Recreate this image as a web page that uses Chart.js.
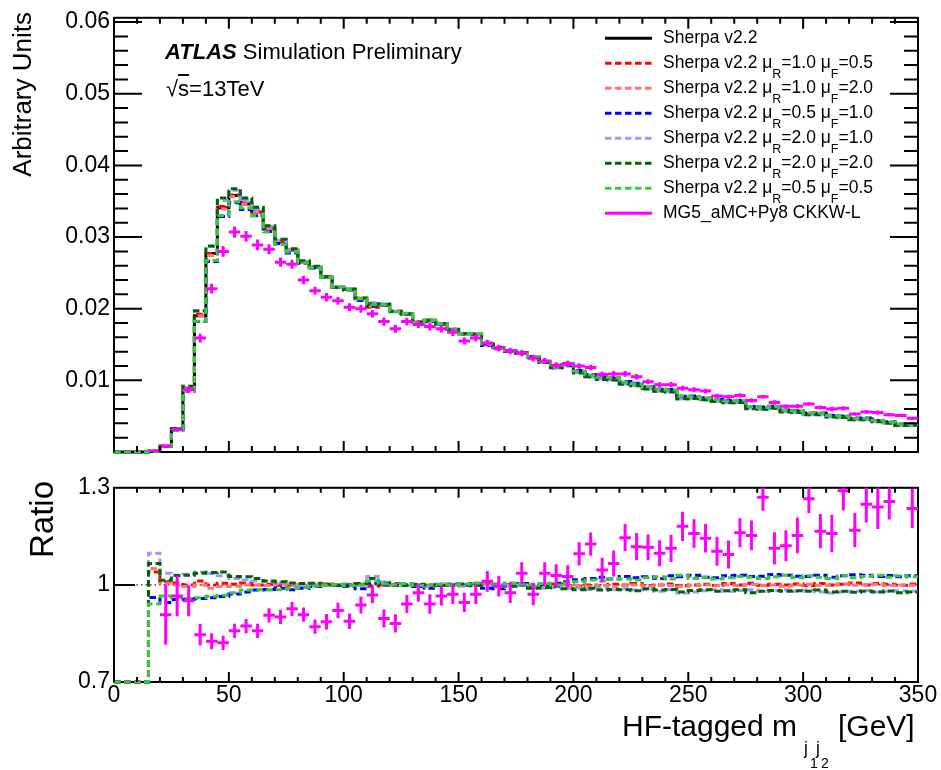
<!DOCTYPE html>
<html>
<head>
<meta charset="utf-8">
<title>HF-tagged mjj</title>
<script src="https://cdn.jsdelivr.net/npm/chart.js@4.4.1/dist/chart.umd.min.js"></script>
<style>
  body { margin: 0; background: #fff; font-family: "Liberation Sans", Arial, Helvetica, sans-serif; }
  #page { position: relative; width: 941px; height: 770px; overflow: hidden; }
  canvas { position: absolute; left: 0; }
  .t { position: absolute; white-space: nowrap; line-height: 0; color: #000; }
  .rot { transform: rotate(-90deg); transform-origin: 0 0; text-align: right; }
  .leg { font-size: 17.5px; left: 663px; }
  .leg .s { font-size: 12.5px; position: relative; top: 10px; }
</style>
</head>
<body>
<div id="page">
  <canvas id="mainChart" width="941" height="470" style="top:0"></canvas>
  <canvas id="ratioChart" width="941" height="300" style="top:470px"></canvas>

  <svg id="legLines" width="941" height="770" style="position:absolute;left:0;top:0"></svg>

  <div class="t" style="left:165px;top:52.4px;font-size:22px"><b><i>ATLAS</i></b> Simulation Preliminary</div>
  <div class="t" style="left:166px;top:89.4px;font-size:22px">√<span style="text-decoration:overline">s</span>=13TeV</div>

  <div class="t leg" style="top:37.4px">Sherpa v2.2</div>
  <div class="t leg" style="top:62.4px">Sherpa v2.2 μ<span class="s">R</span>=1.0 μ<span class="s">F</span>=0.5</div>
  <div class="t leg" style="top:87.4px">Sherpa v2.2 μ<span class="s">R</span>=1.0 μ<span class="s">F</span>=2.0</div>
  <div class="t leg" style="top:112.4px">Sherpa v2.2 μ<span class="s">R</span>=0.5 μ<span class="s">F</span>=1.0</div>
  <div class="t leg" style="top:137.4px">Sherpa v2.2 μ<span class="s">R</span>=2.0 μ<span class="s">F</span>=1.0</div>
  <div class="t leg" style="top:162.4px">Sherpa v2.2 μ<span class="s">R</span>=2.0 μ<span class="s">F</span>=2.0</div>
  <div class="t leg" style="top:187.4px">Sherpa v2.2 μ<span class="s">R</span>=0.5 μ<span class="s">F</span>=0.5</div>
  <div class="t leg" style="top:212.4px">MG5_aMC+Py8 CKKW-L</div>

  <div class="t rot" style="left:21.5px;top:312px;width:300px;font-size:26px">Arbitrary Units</div>
  <div class="t rot" style="left:41.6px;top:681px;width:200px;font-size:33px">Ratio</div>

  <div class="t" style="left:622px;top:726.1px;font-size:30px">HF-tagged m</div>
  <div class="t" style="left:804px;top:748.4px;font-size:17.5px">j</div>
  <div class="t" style="left:810px;top:763.2px;font-size:14px">1</div>
  <div class="t" style="left:816px;top:748.4px;font-size:17.5px">j</div>
  <div class="t" style="left:821px;top:763.2px;font-size:14px">2</div>
  <div class="t" style="left:838px;top:726.1px;font-size:30px">[GeV]</div>
</div>

<script>
// bins of 5 GeV from 0 to 350
const binEdges = Array.from({length: 71}, (_, i) => i * 5);
const xTicks = [0, 50, 100, 150, 200, 250, 300, 350];
const yTicksMain = [0.01, 0.02, 0.03, 0.04, 0.05, 0.06];
const yTicksRatio = [0.7, 1, 1.3];

// Sherpa v2.2 nominal, normalised
const sherpaNominal = [
  0, 0, 0, 0.0001, 0.0008, 0.0032, 0.0089, 0.0190, 0.0277, 0.0341,
  0.0358, 0.0346, 0.0335, 0.0312, 0.0294, 0.0282, 0.0266, 0.0258, 0.0244, 0.0230,
  0.0227, 0.0214, 0.0203, 0.0205, 0.0196, 0.0193, 0.0181, 0.0184, 0.0179, 0.0171,
  0.0165, 0.0164, 0.0150, 0.0146, 0.0141, 0.0138, 0.0133, 0.0126, 0.0118, 0.0122,
  0.0112, 0.0106, 0.0103, 0.0102, 0.0096, 0.0094, 0.0089, 0.0086, 0.0085, 0.0076,
  0.0076, 0.0074, 0.0072, 0.0070, 0.0070, 0.0062, 0.0061, 0.0062, 0.0057, 0.0056,
  0.0053, 0.0053, 0.0050, 0.0049, 0.0046, 0.0046, 0.0043, 0.0041, 0.0038, 0.0038
];

// MG5_aMC+Py8 CKKW-L, normalised
const mg5Main = [
  null, null, null, 0.0001, 0.0008, 0.0031, 0.0087, 0.0159, 0.0228, 0.0280,
  0.0307, 0.0301, 0.0289, 0.0283, 0.0265, 0.0262, 0.0240, 0.0225, 0.0216, 0.0211,
  0.0202, 0.0200, 0.0193, 0.0182, 0.0172, 0.0182, 0.0178, 0.0175, 0.0172, 0.0167,
  0.0155, 0.0159, 0.0152, 0.0145, 0.0141, 0.0138, 0.0131, 0.0127, 0.0121, 0.0123,
  0.0120, 0.0118, 0.0108, 0.0109, 0.0109, 0.0105, 0.0098, 0.0094, 0.0094, 0.0089,
  0.0087, 0.0085, 0.0078, 0.0077, 0.0079, 0.0072, 0.0077, 0.0069, 0.0064, 0.0064,
  0.0067, 0.0062, 0.0060, 0.0061, 0.0053, 0.0056, 0.0055, 0.0052, 0.0051, 0.0047
];

// ratio MG5 / Sherpa nominal and its error
const mg5Ratio = [
  null, null, null, null, 0.908, 0.966, 0.951, 0.846, 0.826, 0.821,
  0.858, 0.873, 0.858, 0.906, 0.901, 0.926, 0.908, 0.871, 0.886, 0.921,
  0.888, 0.938, 0.969, 0.896, 0.881, 0.941, 0.976, 0.941, 0.966, 0.971,
  0.946, 0.971, 1.011, 0.996, 0.976, 1.036, 0.971, 1.036, 1.029, 1.026,
  1.096, 1.126, 1.046, 1.066, 1.146, 1.118, 1.116, 1.098, 1.113, 1.181,
  1.159, 1.144, 1.104, 1.094, 1.161, 1.153, 1.271, 1.113, 1.121, 1.153,
  1.266, 1.166, 1.159, 1.291, 1.169, 1.249, 1.241, 1.258, 1.350, 1.236
];
const mg5RatioErr = [
  0, 0, 0, 0, 0.093, 0.063, 0.048, 0.033, 0.025, 0.022,
  0.022, 0.022, 0.022, 0.022, 0.022, 0.022, 0.022, 0.022, 0.024, 0.024,
  0.024, 0.026, 0.026, 0.028, 0.028, 0.028, 0.028, 0.030, 0.030, 0.030,
  0.030, 0.030, 0.032, 0.032, 0.032, 0.034, 0.034, 0.034, 0.035, 0.035,
  0.036, 0.036, 0.038, 0.040, 0.042, 0.042, 0.040, 0.040, 0.042, 0.045,
  0.044, 0.044, 0.045, 0.043, 0.045, 0.046, 0.042, 0.050, 0.048, 0.055,
  0.045, 0.053, 0.058, 0.060, 0.053, 0.056, 0.068, 0.056, 0.060, 0.060
];

// scale variations / nominal
const ratioR1F05 = [
  0, 0, 0, 1.040, 1.010, 1.006, 1.000, 1.012, 1.000, 1.005,
  1.002, 1.006, 1.000, 1.002, 0.998, 1.000, 0.997, 1.000, 1.003, 0.998,
  1.000, 1.002, 0.996, 1.000, 1.004, 0.998, 1.000, 0.997, 1.002, 1.000,
  0.998, 1.004, 1.008, 1.002, 0.999, 1.000, 0.996, 1.000, 1.003, 0.997,
  0.996, 1.000, 0.998, 1.002, 1.000, 1.004, 0.998, 1.000, 1.003, 0.997,
  1.000, 1.002, 0.998, 1.004, 1.000, 1.005, 0.999, 1.002, 1.000, 1.003,
  0.998, 1.004, 1.000, 1.002, 1.006, 1.000, 1.004, 1.002, 0.999, 1.003
];
const ratioR1F2 = [
  0, 0, 0, 1.051, 1.005, 1.000, 0.995, 1.000, 0.990, 0.995,
  0.996, 1.000, 1.000, 0.998, 1.002, 0.998, 1.000, 1.003, 0.998, 1.000,
  0.997, 1.000, 1.004, 0.998, 1.000, 1.002, 0.997, 1.000, 0.998, 1.003,
  1.000, 0.998, 1.003, 1.000, 0.997, 1.000, 1.002, 0.995, 0.998, 0.996,
  0.998, 0.996, 0.998, 0.995, 0.998, 1.000, 0.996, 1.000, 0.998, 0.995,
  0.998, 1.000, 0.997, 1.000, 0.998, 1.001, 0.998, 1.000, 0.996, 1.000,
  1.002, 0.998, 1.000, 1.003, 0.999, 1.000, 1.002, 0.998, 1.000, 0.999
];
const ratioR05F1 = [
  0, 0, 0, 0.961, 0.946, 0.955, 0.956, 0.958, 0.960, 0.964,
  0.972, 0.978, 0.984, 0.986, 0.990, 0.985, 0.990, 0.995, 0.998, 1.000,
  0.996, 0.988, 1.005, 1.000, 0.998, 1.000, 0.995, 0.990, 0.998, 1.002,
  1.000, 1.003, 0.990, 0.988, 1.000, 1.004, 0.992, 1.000, 1.005, 1.010,
  1.016, 1.020, 1.024, 1.018, 1.026, 1.022, 1.025, 1.020, 1.028, 1.025,
  1.030, 1.024, 1.022, 1.028, 1.030, 1.026, 1.027, 1.032, 1.030, 1.027,
  1.026, 1.030, 1.024, 1.028, 1.031, 1.030, 1.026, 1.029, 1.025, 1.028
];
const ratioR2F1 = [
  0, 0, 0, 1.098, 1.036, 1.030, 1.033, 1.040, 1.035, 1.028,
  1.020, 1.015, 1.012, 1.010, 1.006, 1.004, 1.000, 1.002, 0.998, 1.000,
  1.003, 1.000, 1.026, 1.010, 1.002, 0.998, 1.000, 0.996, 1.003, 1.000,
  0.996, 1.000, 0.998, 0.994, 0.998, 1.000, 0.994, 0.990, 0.992, 0.988,
  0.990, 0.986, 0.990, 0.985, 0.988, 0.984, 0.986, 0.980, 0.985, 0.975,
  0.978, 0.982, 0.985, 0.980, 0.983, 0.985, 0.980, 0.982, 0.985, 0.980,
  0.984, 0.978, 0.975, 0.978, 0.980, 0.983, 0.978, 0.980, 0.982, 0.980
];
const ratioR2F2 = [
  0, 0, 0, 1.066, 1.014, 1.029, 1.030, 1.036, 1.038, 1.040,
  1.026, 1.025, 1.020, 1.012, 1.010, 1.006, 1.004, 1.005, 1.002, 0.998,
  1.000, 1.004, 1.020, 1.006, 1.000, 0.998, 1.002, 1.000, 0.998, 1.000,
  1.003, 0.998, 1.006, 1.000, 0.996, 1.000, 0.990, 0.992, 0.996, 0.988,
  0.985, 0.990, 0.984, 0.986, 0.985, 0.982, 0.988, 0.984, 0.986, 0.978,
  0.983, 0.985, 0.980, 0.982, 0.985, 0.976, 0.980, 0.983, 0.980, 0.982,
  0.980, 0.984, 0.978, 0.980, 0.977, 0.980, 0.978, 0.981, 0.976, 0.978
];
const ratioR05F05 = [
  0, 0, 0, 0.941, 0.966, 0.960, 0.958, 0.960, 0.965, 0.968,
  0.976, 0.984, 0.985, 0.984, 0.985, 0.990, 0.992, 0.996, 1.000, 1.002,
  0.998, 1.000, 1.012, 1.003, 1.000, 1.004, 0.998, 1.000, 1.002, 1.000,
  1.003, 1.006, 1.004, 1.000, 1.006, 1.002, 1.000, 1.004, 1.000, 1.006,
  1.010, 1.015, 1.012, 1.020, 1.018, 1.015, 1.022, 1.025, 1.018, 1.030,
  1.020, 1.024, 1.018, 1.022, 1.026, 1.024, 1.020, 1.025, 1.030, 1.022,
  1.028, 1.024, 1.020, 1.028, 1.022, 1.026, 1.030, 1.024, 1.028, 1.025
];

const MAGENTA = '#ff00ff';
const DASH = [6.5, 3.5];

// drawn bottom -> top
const variations = [
  { ratio: ratioR1F05,  color: '#ff0000', order: 6 },
  { ratio: ratioR1F2,   color: '#ff7474', order: 5 },
  { ratio: ratioR05F1,  color: '#0000ff', order: 4 },
  { ratio: ratioR2F1,   color: '#9999ff', order: 3 },
  { ratio: ratioR2F2,   color: '#006400', order: 2 },
  { ratio: ratioR05F05, color: '#3cc83c', order: 1 }
];

Chart.defaults.font.family = '"Liberation Sans", Arial, Helvetica, sans-serif';
Chart.defaults.color = '#000';

const fmt = v => String(Math.round(v * 1000) / 1000);

// step histogram: one point per lower bin edge plus the last upper edge
function histPoints(vals) {
  const pts = vals.map((v, i) => ({ x: binEdges[i], y: v }));
  pts.push({ x: binEdges[vals.length], y: vals[vals.length - 1] });
  return pts;
}

// ROOT-style crosses: horizontal bar over the bin, vertical error bar
function crossPoints(vals, errs, lo, hi) {
  const pts = [];
  vals.forEach((v, i) => {
    if (v === null || v < lo || v > hi) return;
    const a = binEdges[i], b = binEdges[i + 1], c = (a + b) / 2;
    pts.push({ x: a, y: v }, { x: b, y: v }, { x: c, y: null },
             { x: c, y: v - errs[i] }, { x: c, y: v + errs[i] }, { x: c, y: null });
  });
  return pts;
}

// 'before' keeps the previous value up to the next edge, then steps
function stepSet(data, color, order, dash) {
  return { data, borderColor: color, borderWidth: 3, borderDash: dash || [],
           stepped: 'before', pointRadius: 0, fill: false, clip: 3, order };
}

// frame under the histograms, inward ticks on top, reference line
const frameTicks = {
  id: 'frameTicks',
  beforeDatasetsDraw(chart, args, o) {
    const { ctx, chartArea: a, scales: { y } } = chart;
    ctx.save();
    ctx.strokeStyle = '#000';
    ctx.lineWidth = 2;
    ctx.strokeRect(a.left, a.top, a.right - a.left, a.bottom - a.top);
    if (o.refLine !== undefined) {
      const py = y.getPixelForValue(o.refLine);
      ctx.strokeStyle = '#222';
      ctx.lineWidth = 1.3;
      ctx.setLineDash([1.5, 3]);
      ctx.beginPath();
      ctx.moveTo(a.left, py);
      ctx.lineTo(a.right, py);
      ctx.stroke();
    }
    ctx.restore();
  },
  afterDatasetsDraw(chart, args, o) {
    const { ctx, chartArea: a, scales: { x, y } } = chart;
    ctx.save();
    ctx.strokeStyle = '#000';
    ctx.lineWidth = 2;
    ctx.beginPath();
    for (let k = 0; k <= 35; k++) {
      const px = x.getPixelForValue(k * 10);
      const len = k % 5 === 0 ? o.xMajorLen : o.xMinorLen;
      ctx.moveTo(px, a.bottom); ctx.lineTo(px, a.bottom - len);
      ctx.moveTo(px, a.top); ctx.lineTo(px, a.top + len);
    }
    for (const v of o.yMajor) {
      const py = y.getPixelForValue(v);
      ctx.moveTo(a.left, py); ctx.lineTo(a.left + o.yMajorLen, py);
      if (o.yRight) { ctx.moveTo(a.right, py); ctx.lineTo(a.right - o.yMajorLen, py); }
    }
    if (o.yMinorStep) {
      const n = Math.round(o.yMinorMax / o.yMinorStep);
      for (let k = 1; k < n; k++) {
        if (k % 5 === 0) continue;
        const py = y.getPixelForValue(k * o.yMinorStep);
        ctx.moveTo(a.left, py); ctx.lineTo(a.left + o.yMinorLen, py);
        if (o.yRight) { ctx.moveTo(a.right, py); ctx.lineTo(a.right - o.yMinorLen, py); }
      }
    }
    ctx.stroke();
    ctx.restore();
  }
};

function makeOptions(yMin, yMax, yTicks, showX, ticksOpt) {
  return {
    responsive: false,
    animation: false,
    devicePixelRatio: 1,
    events: [],
    layout: { padding: { left: 0, right: 23, top: 12, bottom: showX ? 0 : 18 } },
    plugins: { legend: { display: false }, tooltip: { enabled: false }, frameTicks: ticksOpt },
    scales: {
      x: {
        type: 'linear', min: 0, max: 350, display: showX,
        grid: { display: false, drawTicks: false }, border: { display: false },
        ticks: { autoSkip: false, maxRotation: 0, padding: 0, font: { size: 23 }, callback: fmt },
        afterBuildTicks: s => { s.ticks = xTicks.map(v => ({ value: v })); },
        afterFit: s => { if (showX) s.height = 88; }
      },
      y: {
        type: 'linear', min: yMin, max: yMax,
        grid: { display: false, drawTicks: false }, border: { display: false },
        ticks: { autoSkip: false, padding: 4, font: { size: 23 }, callback: fmt },
        afterBuildTicks: s => { s.ticks = yTicks.map(v => ({ value: v })); },
        afterFit: s => { s.width = 114; }
      }
    }
  };
}

// main panel
const mainErr = mg5Main.map((v, i) => (v !== null && mg5Ratio[i]) ? v * mg5RatioErr[i] / mg5Ratio[i] : 0);
const mainSets = [stepSet(histPoints(sherpaNominal), '#000000', 8)];
variations.forEach(s => {
  mainSets.push(stepSet(histPoints(sherpaNominal.map((v, i) => v * s.ratio[i])), s.color, s.order, DASH));
});
mainSets.push({ data: crossPoints(mg5Main, mainErr, 0, 0.0606), borderColor: MAGENTA, borderWidth: 3,
                pointRadius: 0, fill: false, spanGaps: false, order: 0 });

new Chart(document.getElementById('mainChart'), {
  type: 'line',
  data: { datasets: mainSets },
  options: makeOptions(0, 0.0606, yTicksMain, false,
    { xMajorLen: 11, xMinorLen: 6, yMajor: yTicksMain, yMajorLen: 28, yMinorStep: 0.002, yMinorMax: 0.06,
      yMinorLen: 14, yRight: true }),
  plugins: [frameTicks]
});

// ratio panel
const ratioSets = variations.map(s =>
  stepSet(histPoints(s.ratio.map(v => Math.max(v, 0.7))), s.color, s.order, DASH));
ratioSets.push({ data: crossPoints(mg5Ratio, mg5RatioErr, 0.7, 1.3), borderColor: MAGENTA, borderWidth: 3,
                 pointRadius: 0, fill: false, spanGaps: false, clip: 0, order: 0 });

new Chart(document.getElementById('ratioChart'), {
  type: 'line',
  data: { datasets: ratioSets },
  options: makeOptions(0.7, 1.3, yTicksRatio, true,
    { xMajorLen: 10, xMinorLen: 5, yMajor: [1], yMajorLen: 21, yMinorStep: null, refLine: 1, yRight: false }),
  plugins: [frameTicks]
});

// legend line samples
const legendStyles = [
  { color: '#000000', dash: '' },
  ...variations.map(s => ({ color: s.color, dash: DASH.join(' ') })),
  { color: MAGENTA, dash: '' }
];
const svg = document.getElementById('legLines');
legendStyles.forEach((s, k) => {
  const ln = document.createElementNS('http://www.w3.org/2000/svg', 'line');
  const yy = 38.3 + 25 * k;
  ln.setAttribute('x1', 605); ln.setAttribute('x2', 652);
  ln.setAttribute('y1', yy); ln.setAttribute('y2', yy);
  ln.setAttribute('stroke', s.color); ln.setAttribute('stroke-width', 3);
  if (s.dash) ln.setAttribute('stroke-dasharray', s.dash);
  svg.appendChild(ln);
});
</script>
</body>
</html>
